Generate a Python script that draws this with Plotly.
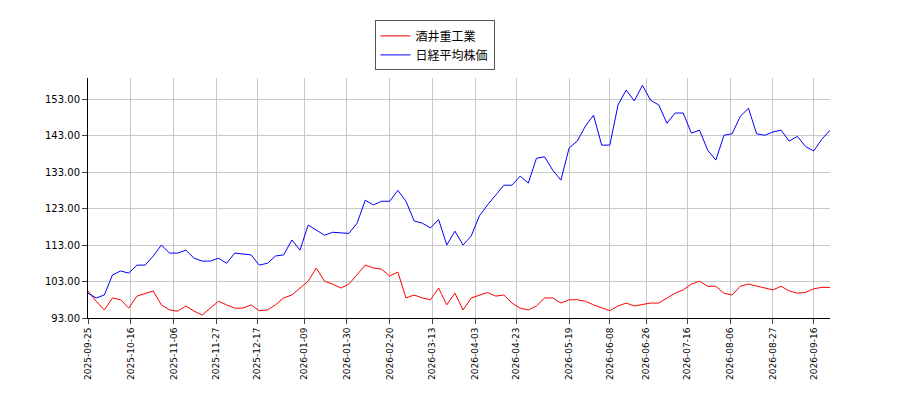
import plotly.graph_objects as go
import pandas as pd

dates = pd.date_range("2025-09-25", periods=92, freq="4D")
sakai = [100.4,97.6,95.2,98.5,98,95.7,99,99.8,100.4,96.6,95.2,94.9,96.3,94.9,93.8,95.7,97.6,96.6,95.7,95.7,
         96.6,95,95.2,96.6,98.5,99.3,101.2,103.1,106.7,103.1,102.3,101.2,102.3,104.8,107.5,106.7,106.4,104.5,105.6,98.5,
         99.3,98.5,98,101.2,96.6,99.8,95.2,98.5,99.3,100,99,99.3,97.1,95.7,95.2,96.3,98.5,98.5,97.1,98,
         98,97.6,96.6,95.7,95,96.3,97.1,96.3,96.6,97.1,97.1,98.5,99.8,100.7,102.3,103.1,101.7,101.7,99.8,99.3,
         101.7,102.3,101.7,101.2,100.7,101.7,100.4,99.8,100,101,101.4,101.4]
nikkei = [99.8,98.5,99.3,104.8,105.9,105.3,107.5,107.5,110,113,110.8,110.8,111.6,109.4,108.6,108.6,109.4,108,110.8,110.5,
          110.3,107.5,108,110,110.3,114.4,111.6,118.5,117,115.7,116.5,116.3,116.2,119,125.3,124,125,125,128,125,
          119.6,119,117.7,120,113,116.8,113,115.5,121,124,126.7,129.4,129.4,131.9,130,136.8,137.2,133.5,130.8,139.6,
          141.5,145.6,148.6,140.4,140.4,151.4,155.5,152.5,156.8,152.7,151.4,146.4,149.2,149.2,143.7,144.5,139,136.3,143.1,143.5,
          148.3,150.5,143.5,143.1,144,144.5,141.5,142.8,140,138.8,142,144.5]
tick_dates = ["2025-09-25","2025-10-16","2025-11-06","2025-11-27","2025-12-17","2026-01-09","2026-01-30","2026-02-20",
              "2026-03-13","2026-04-03","2026-04-23","2026-05-19","2026-06-08","2026-06-26","2026-07-16","2026-08-06",
              "2026-08-27","2026-09-16"]
y_ticks = [93,103,113,123,133,143,153]

fig = go.Figure()
fig.add_trace(go.Scatter(x=dates, y=sakai, mode="lines", name="酒井重工業", line=dict(color="#ff0000", width=1)))
fig.add_trace(go.Scatter(x=dates, y=nikkei, mode="lines", name="日経平均株価", line=dict(color="#0000ff", width=1)))
fig.update_layout(
    width=900, height=400, margin=dict(l=80, r=78, t=70, b=90, autoexpand=False),
    plot_bgcolor="white", paper_bgcolor="white",
    font=dict(family="Noto Sans CJK JP", size=11, color="black"),
    legend=dict(x=0.467, y=1.24, xanchor="center", yanchor="top", bordercolor="#555", borderwidth=1,
                font=dict(size=12), tracegroupgap=0),
)
fig.update_xaxes(range=[dates[0], dates[-1]], tickvals=tick_dates, ticktext=tick_dates, tickangle=-90,
                 showgrid=True, gridcolor="#c8c8c8", showline=True, linecolor="black", ticks="outside",
                 automargin=False, tickfont=dict(family="DejaVu Sans", size=9))
fig.update_yaxes(range=[93, 158.8], tickvals=y_ticks, ticktext=[f"{v:.2f}" for v in y_ticks],
                 showgrid=True, gridcolor="#c8c8c8", showline=True, linecolor="black", ticks="outside",
                 automargin=False, tickfont=dict(family="DejaVu Sans", size=10))
fig.write_html("out.html")
